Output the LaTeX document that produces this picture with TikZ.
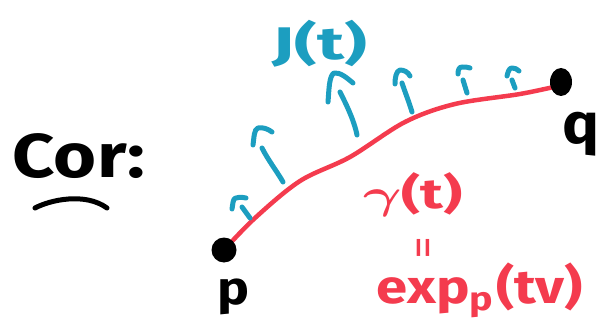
\documentclass[tikz,border=0pt]{standalone}
\usepackage{amsmath}
\usepackage{fontspec}
\setmainfont{Fira Sans}
\usepackage{graphicx}
\definecolor{jcyan}{HTML}{1C9EC0}
\definecolor{gred}{HTML}{F43B4E}
\begin{document}
\begin{tikzpicture}[x=1pt,y=-1pt,
  txt/.style={inner sep=0pt, font=\bfseries},
  jarrow/.style={draw=jcyan, line width=5pt, line cap=round, line join=round},
  geo/.style={draw=gred, line width=4.5pt, line cap=round}]
\useasboundingbox (0,0) rectangle (601,320);
% texts
\node[txt] (cor) at (79,156) {\resizebox*{132pt}{45pt}{Cor:}};
\draw[line width=5pt, line cap=round] (35,208) .. controls (50,200) and (85,192) .. (107,208);
\node[txt, text=jcyan] (J) at (320,44) {\resizebox*{95pt}{47pt}{J(t)}};
\node[txt] (qlab) at (581,134) {\resizebox*{37pt}{44pt}{q}};
\node[txt] (plab) at (233,297) {\resizebox*{32pt}{36pt}{p}};
\node[txt, text=gred] (gam) at (413,195) {\resizebox*{100pt}{44pt}{$\boldsymbol{\gamma}$(t)}};
\node[txt, text=gred] (eq) at (423,248) {\resizebox*{18pt}{17pt}{|\hspace{0.02em}|}};
\node[txt, text=gred] (exp) at (480,290) {\resizebox*{206pt}{55pt}{exp\textsubscript{p}(tv)}};
% geodesic
\coordinate (P) at (224,250);
\coordinate (Q) at (558,86);
\draw[geo] plot[smooth, tension=0.55] coordinates {(P) (255,218) (300,181) (350,157) (405,122) (455,104) (520,94) (Q)};
% endpoints
\fill (P) circle[radius=12.5pt];
\fill (561,82) ellipse[x radius=11pt, y radius=14pt];
% Jacobi field arrows
\draw[jarrow] (250,218) -- (242,207);
\draw[jarrow] (232,209) .. controls (233,203) and (233,198) .. (236,198) .. controls (240,197) and (243,197) .. (246,198);
\draw[jarrow] (283,182) .. controls (278,173) and (268,160) .. (262,148);
\draw[jarrow] (253,145) .. controls (254,138) and (254,129) .. (258,128) .. controls (263,127) and (268,129) .. (272,132);
\draw[jarrow] (357,135) .. controls (354,120) and (346,104) .. (340,92);
\draw[jarrow] (328,102) .. controls (329,90) and (329,76) .. (334,73) .. controls (340,72) and (347,78) .. (353,83);
\draw[jarrow] (412,112) .. controls (409,102) and (405,92) .. (402,83);
\draw[jarrow] (395,84) .. controls (395,78) and (396,71) .. (400,70) .. controls (404,70) and (408,72) .. (410,76);
\draw[jarrow] (467,93) -- (463,80);
\draw[jarrow] (458,74) .. controls (458,70) and (459,67) .. (462,67) .. controls (465,67) and (468,67) .. (470,68);
\draw[jarrow] (515,88) -- (512,80);
\draw[jarrow] (507,76) .. controls (508,72) and (509,68) .. (512,68) .. controls (515,68) and (517,69) .. (519,71);
\end{tikzpicture}
\end{document}
